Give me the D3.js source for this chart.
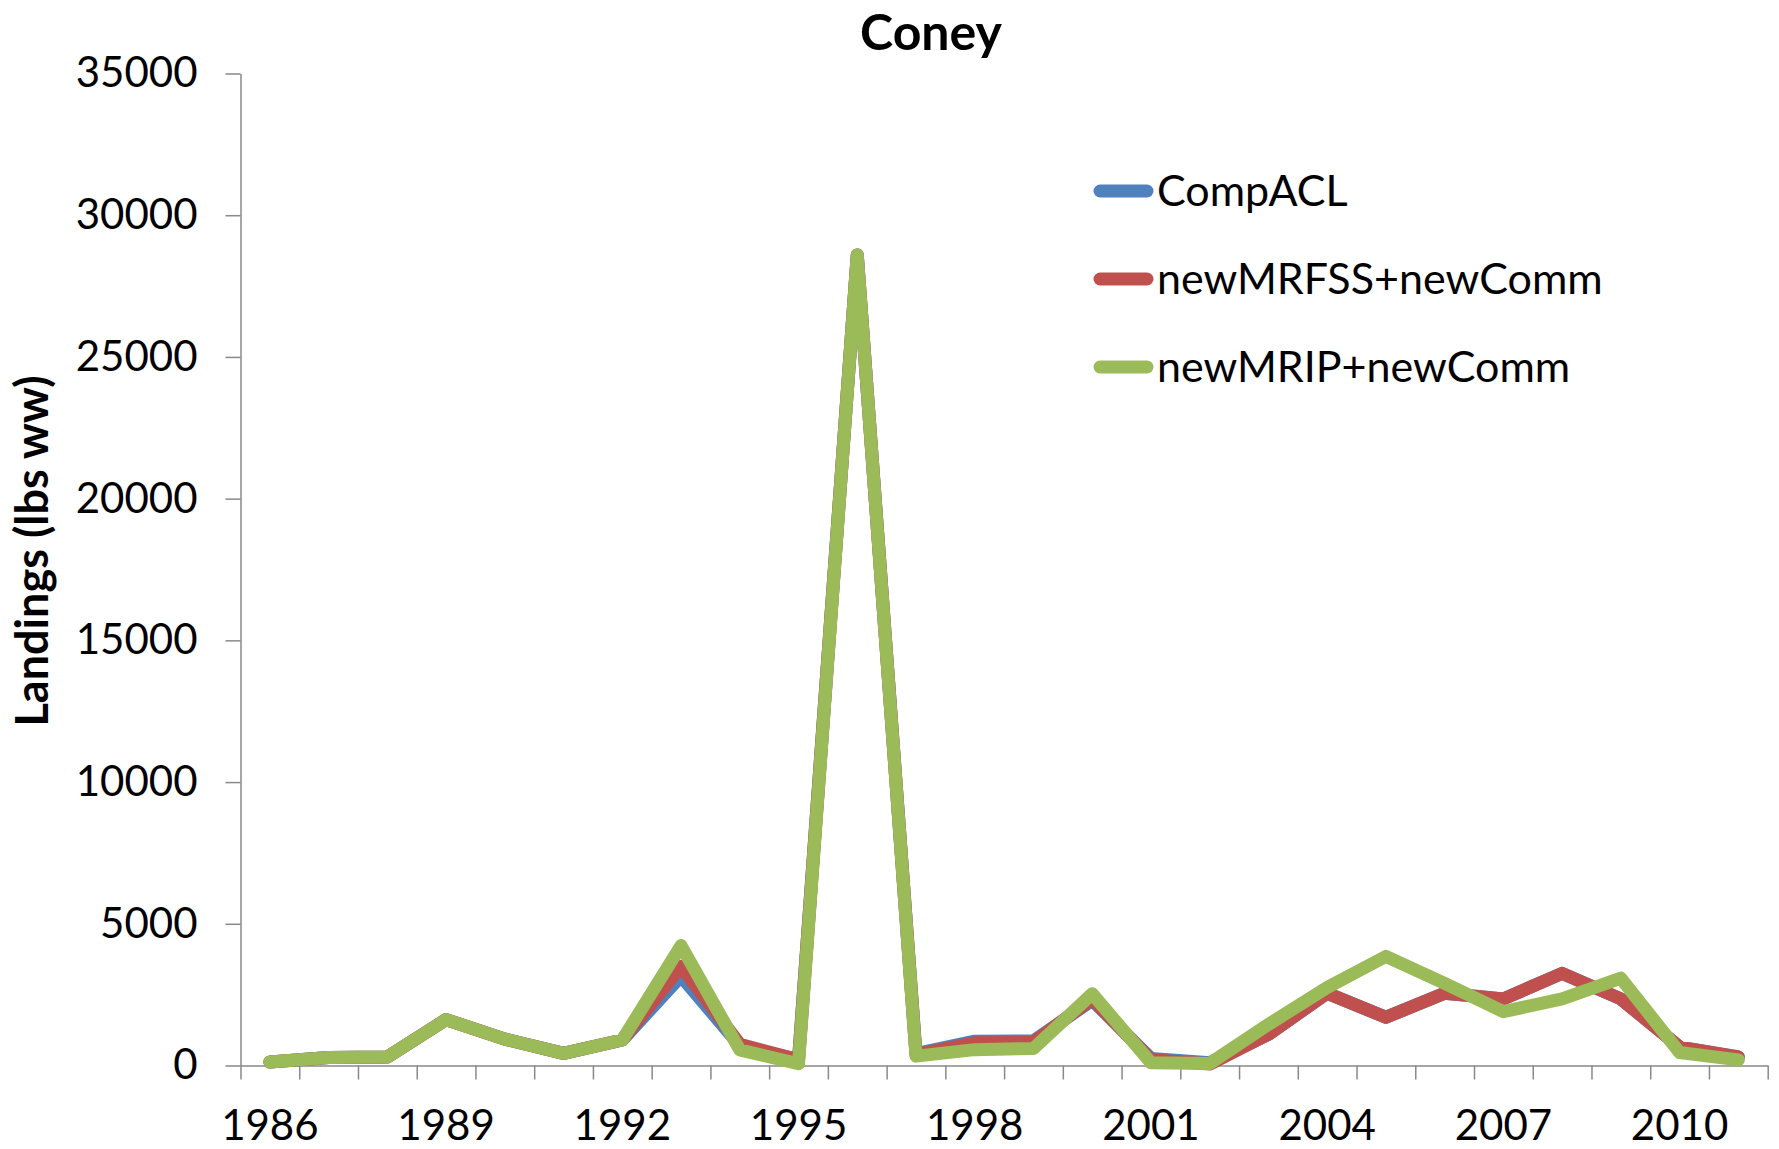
<!DOCTYPE html>
<html>
<head>
<meta charset="utf-8">
<script src="https://cdn.jsdelivr.net/npm/d3@7"></script>
<style>
  html, body { margin: 0; padding: 0; background: #ffffff; }
  svg { display: block; }
  text { font-family: Lato, "Open Sans", sans-serif; fill: #000; }
</style>
</head>
<body>
<svg id="chart" width="1779" height="1149"></svg>
<script>
// ---- data ----
const years = [1986,1987,1988,1989,1990,1991,1992,1993,1994,1995,1996,1997,1998,1999,2000,2001,2002,2003,2004,2005,2006,2007,2008,2009,2010,2011];
const compACL =        [120,280,300,1620,930,430,900,3150,700,200,28600,420,860,870,2300,250,100,1100,2550,1700,2550,2350,3250,2350,650,300];
const newMRFSSnewComm =[120,280,300,1620,930,430,900,3500,750,200,28600,380,800,820,2350,200,50,1100,2550,1700,2550,2350,3250,2350,650,300];
const newMRIPnewComm = [120,280,300,1620,930,430,900,4230,550,60,28600,330,560,600,2530,100,70,1450,2750,3850,2900,1900,2350,3080,460,200];
const seriesNames = ["CompACL","newMRFSS+newComm","newMRIP+newComm"];
const seriesColors = ["#4F81BD","#C0504D","#9BBB59"];
const yTicks = [0,5000,10000,15000,20000,25000,30000,35000];
const xLabelYears = [1986,1989,1992,1995,1998,2001,2004,2007,2010];
const titleText = "Coney";
const yTitleText = "Landings (lbs ww)";

// ---- layout ----
const svg = d3.select("#chart");
const plotLeft = 240.5, plotRight = 1767.7, plotTop = 73.5, plotBottom = 1065.5;
const axisColor = "#898989";

const x = d3.scaleBand().domain(years).range([plotLeft, plotRight]).padding(0);
const xIdx = d3.scaleLinear().domain([0, years.length]).range([plotLeft, plotRight]);
const y = d3.scaleLinear().domain([0, 35000]).range([plotBottom, plotTop]);

// y axis
const yAxis = svg.append("g").attr("transform", `translate(${plotLeft},0)`)
  .call(d3.axisLeft(y).tickValues(yTicks).tickSize(15).tickSizeOuter(0).tickPadding(28).tickFormat(d3.format("d")));
yAxis.select(".domain").attr("stroke", axisColor).attr("stroke-width", 1.5);
yAxis.selectAll(".tick line").attr("stroke", axisColor).attr("stroke-width", 1.5);
yAxis.selectAll("text").attr("font-size", 42).attr("font-family", "Lato").attr("fill", "#000");

// x axis: line + boundary ticks
const xTickAxis = svg.append("g").attr("transform", `translate(0,${plotBottom})`)
  .call(d3.axisBottom(xIdx).tickValues(d3.range(0, years.length + 1)).tickSize(14).tickSizeOuter(0).tickFormat(""));
xTickAxis.select(".domain").attr("stroke", axisColor).attr("stroke-width", 1.5);
xTickAxis.selectAll(".tick line").attr("stroke", axisColor).attr("stroke-width", 1.5);

// x labels
const xLabAxis = svg.append("g").attr("transform", `translate(0,${plotBottom})`)
  .call(d3.axisBottom(x).tickValues(xLabelYears).tickSize(0));
xLabAxis.select(".domain").remove();
xLabAxis.selectAll("text").attr("font-size", 42).attr("font-family", "Lato").attr("fill", "#000")
  .attr("y", 74).attr("dy", 0);

// lines
const seriesData = [compACL, newMRFSSnewComm, newMRIPnewComm];
const line = d3.line()
  .x((d, i) => x(years[i]) + x.bandwidth() / 2)
  .y(d => y(d));
seriesData.forEach((s, k) => {
  svg.append("path")
    .datum(s)
    .attr("d", line)
    .attr("fill", "none")
    .attr("stroke", seriesColors[k])
    .attr("stroke-width", 13)
    .attr("stroke-linejoin", "round")
    .attr("stroke-linecap", "round");
});

// title
svg.append("text").attr("x", 931).attr("y", 50).attr("text-anchor", "middle")
  .attr("font-size", 50).attr("font-weight", "bold").text(titleText);

// y title
svg.append("text").attr("transform", "translate(48,551) rotate(-90)")
  .attr("text-anchor", "middle").attr("font-size", 45).attr("font-weight", "bold").text(yTitleText);

// legend
const legendY = [191, 279, 367];
seriesNames.forEach((n, k) => {
  const g = svg.append("g");
  g.append("line").attr("x1", 1100).attr("x2", 1147).attr("y1", legendY[k]).attr("y2", legendY[k])
    .attr("stroke", seriesColors[k]).attr("stroke-width", 13).attr("stroke-linecap", "round");
  g.append("text").attr("x", 1157).attr("y", legendY[k] + 15).attr("font-size", 43).text(n);
});
</script>
</body>
</html>
